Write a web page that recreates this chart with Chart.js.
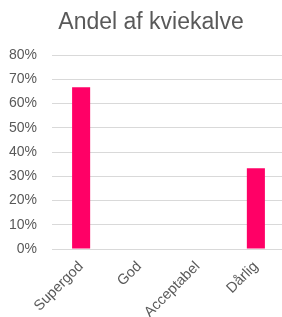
<!DOCTYPE html>
<html>
<head>
<meta charset="utf-8">
<script src="https://cdn.jsdelivr.net/npm/chart.js@4"></script>
<style>
  html, body { margin: 0; padding: 0; background: #fff; overflow: hidden; }
  #wrap { width: 282px; height: 317px; overflow: hidden; }
</style>
</head>
<body>
<div id="wrap"><canvas id="chart" width="285" height="317"></canvas></div>
<script>
const categories = ["Supergod", "God", "Acceptabel", "Dårlig"];
const andel = [66.7, 0, 0, 33.3];
const yMax = 80;
const yStep = 10;
const chartTitle = "Andel af kviekalve";

const grey = "#595959";
const font = "'Liberation Sans', Arial, sans-serif";

// titlen sidder lidt til højre for midten i originalen
const titlePlugin = {
  id: "offsetTitle",
  afterDraw(chart) {
    const c = chart.ctx;
    c.save();
    c.font = "23px " + font;
    c.fillStyle = grey;
    c.textAlign = "center";
    c.textBaseline = "middle";
    c.fillText(chartTitle, 151, 23);
    c.restore();
  },
};

function drawChart() {
  const ctx = document.getElementById("chart").getContext("2d");
  new Chart(ctx, {
    type: "bar",
    data: {
      labels: categories,
      datasets: [
        {
          label: "Andel",
          data: andel,
          backgroundColor: "#ff0066",
          barPercentage: 0.31,
          categoryPercentage: 1,
        },
      ],
    },
    options: {
      responsive: false,
      animation: false,
      layout: { padding: { top: 55, right: 0, left: 0, bottom: 0 } },
      plugins: {
        legend: { display: false },
        tooltip: { enabled: false },
        title: { display: false },
      },
      scales: {
        y: {
          min: 0,
          max: yMax,
          ticks: {
            stepSize: yStep,
            color: grey,
            padding: 15,
            font: { family: font, size: 14 },
            callback: (v) => v + "%",
          },
          grid: { color: "#d9d9d9", drawTicks: false },
          border: { display: false },
          afterFit: (s) => { s.width = 52; },
        },
        x: {
          ticks: {
            color: grey,
            minRotation: 45,
            maxRotation: 45,
            padding: 1,
            font: { family: font, size: 14.5 },
          },
          grid: { display: false },
          border: { display: false },
          afterFit: (s) => { s.height = 68; },
        },
      },
    },
    plugins: [titlePlugin],
  });
}

drawChart();
</script>
</body>
</html>
